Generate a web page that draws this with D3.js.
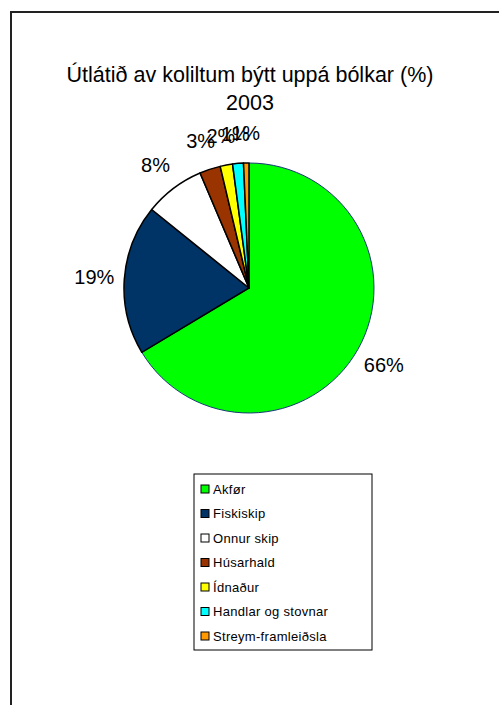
<!DOCTYPE html>
<html>
<head>
<meta charset="utf-8">
<script src="https://cdn.jsdelivr.net/npm/d3@7"></script>
<style>
  body { margin: 0; background: #fff; }
  text { font-family: "Liberation Sans", Arial, sans-serif; fill: #000; }
</style>
</head>
<body>
<script>
// data
var categories = ["Akfør", "Fiskiskip", "Onnur skip", "Húsarhald", "Ídnaður", "Handlar og stovnar", "Streym-framleiðsla"];
var values = [66.4, 19.4, 7.8, 2.7, 1.6, 1.4, 0.7];
var labels = ["66%", "19%", "8%", "3%", "2%", "1%", "1%"];
var colors = ["#00ff00", "#003366", "#ffffff", "#993300", "#ffff00", "#00ffff", "#ff9900"];
var titleLines = ["Útlátið av koliltum býtt uppá bólkar (%)", "2003"];

var width = 499, height = 705;
var cx = 249, cy = 288, radius = 125;

var svg = d3.select("body").append("svg")
    .attr("width", width)
    .attr("height", height);

// chart area border (runs off the right and bottom edge)
svg.append("rect")
    .attr("x", 11).attr("y", 12)
    .attr("width", 520).attr("height", 720)
    .attr("fill", "none")
    .attr("stroke", "#222")
    .attr("stroke-width", 2);

// title
svg.selectAll("text.title")
    .data(titleLines)
    .enter().append("text")
    .attr("class", "title")
    .attr("x", 250)
    .attr("y", function(d, i) { return 82 + i * 28; })
    .attr("text-anchor", "middle")
    .attr("font-size", 21.5)
    .text(function(d) { return d; });

// pie
var pie = d3.pie().sort(null).value(function(d) { return d; });
var arcs = pie(values);
var arc = d3.arc().innerRadius(0).outerRadius(radius);
var labelArc = d3.arc().innerRadius(155).outerRadius(155);

var g = svg.append("g").attr("transform", "translate(" + cx + "," + cy + ")");

g.selectAll("path")
    .data(arcs)
    .enter().append("path")
    .attr("d", arc)
    .attr("fill", function(d, i) { return colors[i]; })
    .attr("stroke", function(d, i) { return i == 0 ? "#1a3a7a" : "#000"; })
    .attr("stroke-width", function(d, i) { return i == 0 ? 1 : 1.5; })
    .attr("stroke-linejoin", "round");

g.selectAll("text")
    .data(arcs)
    .enter().append("text")
    .attr("transform", function(d) { return "translate(" + labelArc.centroid(d) + ")"; })
    .attr("text-anchor", "middle")
    .attr("dy", "0.36em")
    .attr("font-size", 20)
    .text(function(d, i) { return labels[i]; });

// legend
var lx = 194, ly = 474, lw = 178, lh = 176, step = 24.5;
var legend = svg.append("g");
legend.append("rect")
    .attr("x", lx).attr("y", ly)
    .attr("width", lw).attr("height", lh)
    .attr("fill", "#fff")
    .attr("stroke", "#000")
    .attr("stroke-width", 1);

var items = legend.selectAll("g.item")
    .data(categories)
    .enter().append("g")
    .attr("class", "item")
    .attr("transform", function(d, i) { return "translate(" + (lx + 7) + "," + (ly + 15 + i * step) + ")"; });

items.append("rect")
    .attr("x", 0).attr("y", -4)
    .attr("width", 8).attr("height", 8)
    .attr("fill", function(d, i) { return colors[i]; })
    .attr("stroke", "#000")
    .attr("stroke-width", 1);

items.append("text")
    .attr("x", 12)
    .attr("dy", "0.36em")
    .attr("font-size", 13)
    .attr("letter-spacing", 0.3)
    .text(function(d) { return d; });
</script>
</body>
</html>
